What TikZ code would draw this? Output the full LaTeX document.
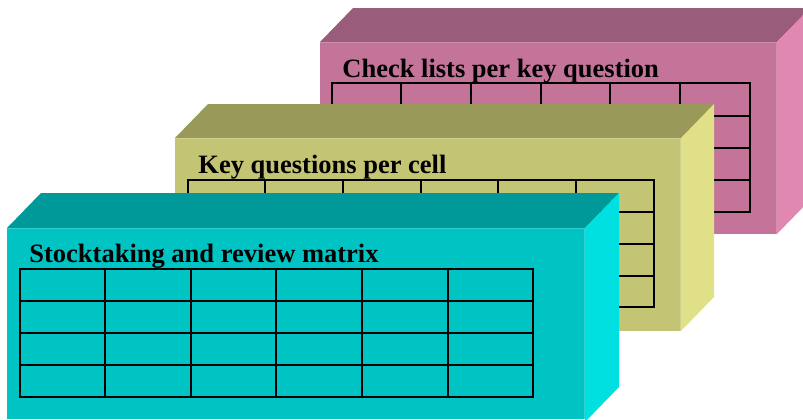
\documentclass[tikz,border=0pt]{standalone}
\usepackage{fontspec}
\setmainfont{Liberation Serif}
\usepackage{tikz}
\usetikzlibrary{positioning}
\definecolor{clfront}{HTML}{C47399}
\definecolor{cltop}{HTML}{995C7A}
\definecolor{clside}{HTML}{E088B2}
\definecolor{kqfront}{HTML}{C4C475}
\definecolor{kqtop}{HTML}{999959}
\definecolor{kqside}{HTML}{E0E088}
\definecolor{srfront}{HTML}{00C4C4}
\definecolor{srtop}{HTML}{009999}
\definecolor{srside}{HTML}{00E0E0}
\tikzset{
  gridline/.style={black,line width=1pt,line cap=rect},
  boxtitle/.style={font=\fontsize{13.25}{16}\selectfont\bfseries,
                   anchor=base west,inner sep=0pt},
  bevel/.style={line width=0.8pt},
}

\begin{document}
\begin{tikzpicture}[x=0.5pt,y=-0.5pt]
  \useasboundingbox(0,0)rectangle(803,419);
  \clip(0,0)rectangle(803,419);
  % Check lists box (back)
  \fill[clfront](320,42)rectangle(777,234);
  \fill[cltop](320,42)--++(33,-34)--++(457,0)--++(-33,34)--cycle;
  \fill[clside](777,42)--++(33,-34)--++(0,192)--++(-33,34)--cycle;
  \draw[bevel,clfront!80!white](320,42.5)--(776.5,42.5)--(776.5,234);
  \node[boxtitle](cl)at(342,77){Check lists per key question};
  \foreach \x in {332,401,471,541,610,680,750}{
    \draw[gridline](\x,83)--(\x,212);}
  \foreach \y in {83,116,148,180,212}{
    \draw[gridline](332,\y)--(750,\y);}
  % Key questions box (middle)
  \fill[kqfront](175,138)rectangle(681,331);
  \fill[kqtop](175,138)--++(33,-34)--++(506,0)--++(-33,34)--cycle;
  \fill[kqside](681,138)--++(33,-34)--++(0,193)--++(-33,34)--cycle;
  \draw[bevel,kqfront!80!white](175,138.5)--(680.5,138.5)--(680.5,331);
  \node[boxtitle](kq)at(198,173){Key questions per cell};
  \foreach \x in {188,265,343,421,498,576,654}{
    \draw[gridline](\x,180)--(\x,307);}
  \foreach \y in {180,212,244,276,307}{
    \draw[gridline](188,\y)--(654,\y);}
  % Stocktaking box (front)
  \fill[srfront](7,228)rectangle(585,419);
  \fill[srtop](7,228)--++(34,-35)--++(578,0)--++(-34,35)--cycle;
  \fill[srside](585,228)--++(34,-35)--++(0,194)--++(-34,35)--cycle;
  \draw[bevel,srfront!80!white](7,228.5)--(584.5,228.5)--(584.5,419);
  \node[boxtitle](sr)at(29,262){Stocktaking and review matrix};
  \foreach \x in {20,105,191,276,362,448,533}{
    \draw[gridline](\x,269)--(\x,397);}
  \foreach \y in {269,301,333,365,397}{
    \draw[gridline](20,\y)--(533,\y);}
\end{tikzpicture}
\end{document}
